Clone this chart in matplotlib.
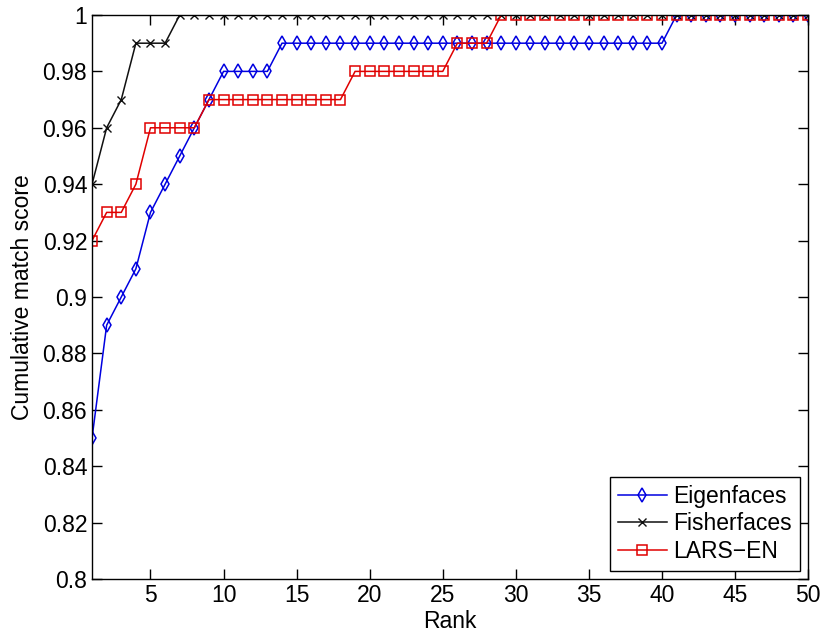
import numpy as np
import matplotlib
matplotlib.use('Agg')
import matplotlib.pyplot as plt

plt.rcParams['font.family'] = ['Liberation Sans', 'DejaVu Sans']
plt.rcParams['font.size'] = 16.5

rank = list(range(1, 51))

eigenfaces = ([0.85, 0.89, 0.90, 0.91, 0.93, 0.94, 0.95, 0.96, 0.97]
              + [0.98] * 4 + [0.99] * 27 + [1.0] * 10)
fisherfaces = [0.94, 0.96, 0.97] + [0.99] * 3 + [1.0] * 44
lars_en = ([0.92, 0.93, 0.93, 0.94] + [0.96] * 4 + [0.97] * 10
           + [0.98] * 7 + [0.99] * 3 + [1.0] * 22)

yticks = [0.8, 0.82, 0.84, 0.86, 0.88, 0.9, 0.92, 0.94, 0.96, 0.98, 1.0]
ytick_labels = ['0.8', '0.82', '0.84', '0.86', '0.88', '0.9', '0.92',
                '0.94', '0.96', '0.98', '1']
xticks = [5, 10, 15, 20, 25, 30, 35, 40, 45, 50]

fig = plt.figure(figsize=(8.24, 6.38), dpi=100)
ax = fig.add_axes([0.1117, 0.0925, 0.869, 0.884])

ax.plot(rank, eigenfaces, color='#0000e0', lw=1.1, marker='d', ms=7.5,
        mfc='none', mew=1.1, label='Eigenfaces')
ax.plot(rank, fisherfaces, color='#101010', lw=1.1, marker='x', ms=5.5,
        mew=1.0, label='Fisherfaces')
ax.plot(rank, lars_en, color='#e00000', lw=1.1, marker='s', ms=7,
        mfc='none', mew=1.1, label='LARS\u2212EN')

ax.set_xlim(1, 50)
ax.set_ylim(0.8, 1.0)
ax.set_xticks(xticks)
ax.set_yticks(yticks)
ax.set_yticklabels(ytick_labels)
ax.tick_params(direction='in', top=True, right=True, length=7, width=1)
for s in ax.spines.values():
    s.set_linewidth(1.0)

ax.set_xlabel('Rank', labelpad=2)
ax.set_ylabel('Cumulative match score', labelpad=6)

leg = ax.legend(loc='lower right', fancybox=False, edgecolor='black',
                framealpha=1, borderpad=0.35, labelspacing=0.2,
                handlelength=2.1, handletextpad=0.3, borderaxespad=0.35)
leg.get_frame().set_linewidth(1.0)

fig.savefig('out.png', dpi=100)
